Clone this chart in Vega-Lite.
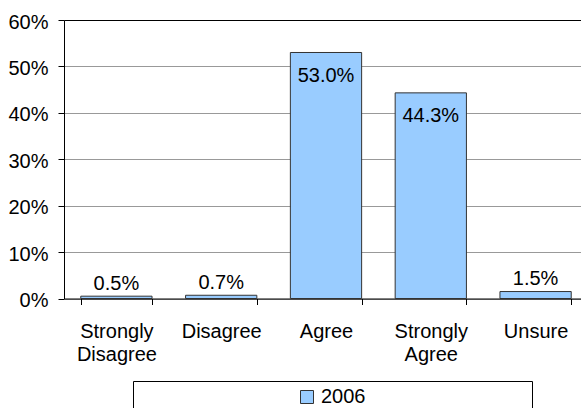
{
  "$schema": "https://vega.github.io/schema/vega-lite/v6.json",
  "autosize": "none",
  "padding": {"left": 64, "top": 20, "right": 0, "bottom": 110},
  "width": 524,
  "height": 278.5,
  "background": "white",
  "config": {
    "font": "Liberation Sans",
    "view": {"stroke": null},
    "axis": {"labelFont": "Liberation Sans", "labelColor": "#000", "labelFontSize": 20}
  },
  "data": {
    "values": [
      {"response": "Strongly Disagree", "year": "2006", "share": 0.005},
      {"response": "Disagree", "year": "2006", "share": 0.007},
      {"response": "Agree", "year": "2006", "share": 0.53},
      {"response": "Strongly Agree", "year": "2006", "share": 0.443},
      {"response": "Unsure", "year": "2006", "share": 0.015}
    ]
  },
  "encoding": {
    "x": {
      "field": "response",
      "type": "nominal",
      "sort": null,
      "scale": {"paddingInner": 0.32, "paddingOuter": 0.16},
      "axis": {
        "title": null,
        "labelAngle": 0,
        "labelExpr": "split(datum.label, ' ')",
        "labelLineHeight": 23,
        "labelPadding": 17,
        "tickBand": "extent",
        "tickSize": 6,
        "tickColor": "#000",
        "domainColor": "#000",
        "grid": false
      }
    },
    "y": {
      "field": "share",
      "type": "quantitative",
      "scale": {"domain": [0, 0.6], "nice": false},
      "axis": {
        "title": null,
        "format": ".0%",
        "values": [0, 0.1, 0.2, 0.3, 0.4, 0.5, 0.6],
        "tickSize": 6,
        "tickColor": "#000",
        "domainColor": "#000",
        "labelPadding": 10,
        "labelOffset": 2,
        "grid": true,
        "gridColor": {"condition": {"test": "datum.value >= 0.6", "value": "#000"}, "value": "#999"},
        "gridOpacity": 1
      }
    }
  },
  "layer": [
    {
      "mark": {"type": "bar", "stroke": "#333", "strokeWidth": 1},
      "encoding": {
        "fill": {
          "field": "year",
          "type": "nominal",
          "scale": {"range": ["#99CCFF"]},
          "legend": {
            "orient": "none",
            "legendX": 69,
            "legendY": 361,
            "title": " ",
            "titleOrient": "right",
            "titlePadding": 161,
            "titleFontSize": 20,
            "padding": 6,
            "strokeColor": "#000",
            "fillColor": "#fff",
            "symbolType": "square",
            "symbolSize": 169,
            "symbolStrokeColor": "#333",
            "symbolStrokeWidth": 1,
            "symbolOffset": 158,
            "labelOffset": 4,
            "labelFontSize": 20,
            "labelFont": "Liberation Sans",
            "labelColor": "#000"
          }
        }
      }
    },
    {
      "transform": [{"filter": "datum.share > 0.1"}],
      "mark": {"type": "text", "baseline": "alphabetic", "dy": 29.5, "fontSize": 20, "font": "Liberation Sans", "color": "#000"},
      "encoding": {"text": {"field": "share", "type": "quantitative", "format": ".1%"}}
    },
    {
      "transform": [{"filter": "datum.share <= 0.1"}],
      "mark": {"type": "text", "baseline": "alphabetic", "dy": -6.5, "fontSize": 20, "font": "Liberation Sans", "color": "#000"},
      "encoding": {"text": {"field": "share", "type": "quantitative", "format": ".1%"}}
    }
  ]
}
